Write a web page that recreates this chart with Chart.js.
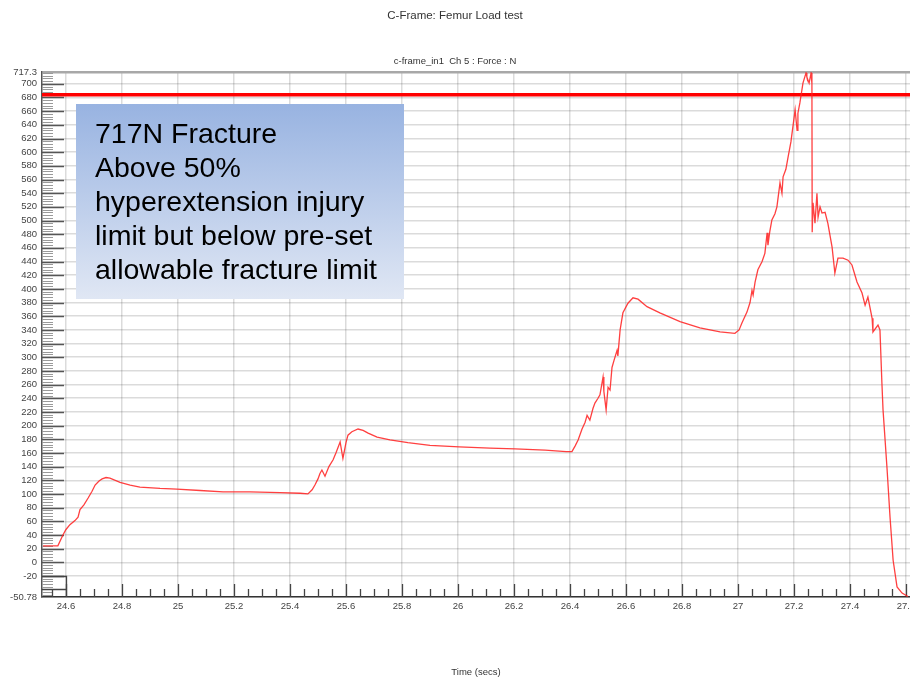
<!DOCTYPE html>
<html>
<head>
<meta charset="utf-8">
<script src="https://cdn.jsdelivr.net/npm/chart.js@4/dist/chart.umd.min.js"></script>
<style>
  html, body { margin: 0; padding: 0; background: #fff; }
  #wrap { width: 910px; height: 680px; }
</style>
</head>
<body>
<div id="wrap"><canvas id="femurChart" width="910" height="680"></canvas></div>
<script>
// time axis (secs) and femur force (N)
const timeSecs = [
  24.518, 24.571, 24.589, 24.600, 24.614, 24.632, 24.643, 24.650, 24.664, 24.679,
  24.693, 24.704, 24.718, 24.729, 24.743, 24.757, 24.793, 24.829, 24.864, 24.936,
  24.996, 25.079, 25.161, 25.257, 25.364, 25.436, 25.464, 25.479, 25.489, 25.500,
  25.507, 25.514, 25.525, 25.539, 25.554, 25.564, 25.579, 25.589, 25.600, 25.607,
  25.621, 25.643, 25.661, 25.679, 25.711, 25.757, 25.821, 25.900, 26.004, 26.114,
  26.204, 26.311, 26.386, 26.407, 26.418, 26.429, 26.443, 26.454, 26.461, 26.471,
  26.482, 26.489, 26.500, 26.507, 26.518, 26.521, 26.529, 26.536, 26.543, 26.550,
  26.557, 26.568, 26.571, 26.579, 26.589, 26.607, 26.625, 26.643, 26.675, 26.721,
  26.793, 26.864, 26.936, 26.989, 27.004, 27.014, 27.032, 27.043, 27.050, 27.054,
  27.061, 27.071, 27.086, 27.096, 27.104, 27.107, 27.114, 27.121, 27.132, 27.139,
  27.150, 27.157, 27.161, 27.171, 27.179, 27.189, 27.196, 27.204, 27.211, 27.214,
  27.221, 27.232, 27.243, 27.246, 27.254, 27.261, 27.264, 27.265, 27.268, 27.275,
  27.282, 27.286, 27.293, 27.300, 27.311, 27.321, 27.336, 27.346, 27.357, 27.375,
  27.393, 27.407, 27.425, 27.443, 27.454, 27.464, 27.479, 27.482, 27.500, 27.507,
  27.514, 27.518, 27.532, 27.543, 27.554, 27.568, 27.586, 27.607
];
const forceN = [
  24, 24, 40, 48, 55, 61, 66, 77, 84, 94,
  104, 113, 119, 122, 124, 123, 117, 113, 110, 108,
  107, 105, 103, 103, 102, 101, 100, 106, 113, 122,
  130, 135, 126, 140, 150, 160, 176, 152, 175, 186,
  191, 195, 193, 189, 183, 179, 175, 171, 169, 167,
  166, 164, 162, 162, 170, 179, 195, 205, 215, 208,
  225, 233, 240, 245, 271, 250, 223, 256, 252, 285,
  295, 310, 302, 340, 365, 379, 387, 385, 374, 365,
  352, 343, 337, 335, 340, 350, 366, 380, 398, 391,
  410, 428, 440, 452, 482, 464, 485, 501, 510, 520,
  555, 540, 564, 575, 593, 615, 637, 662, 632, 657,
  672, 701, 716, 710, 701, 716, 700, 483, 526, 496,
  540, 505, 520, 511, 512, 496, 461, 423, 445, 445,
  442, 435, 410, 394, 376, 388, 357, 337, 347, 340,
  262, 223, 139, 66, 3, -36, -45, -50
];
const limitN = 684;

const xTicks = [24.6, 24.8, 25, 25.2, 25.4, 25.6, 25.8, 26, 26.2, 26.4, 26.6, 26.8, 27, 27.2, 27.4, 27.6];
const yTicks = [
  -50.78, -20, 0, 20, 40, 60, 80, 100, 120, 140, 160, 180, 200, 220, 240, 260, 280, 300,
  320, 340, 360, 380, 400, 420, 440, 460, 480, 500, 520, 540, 560, 580, 600, 620, 640,
  660, 680, 700, 717.3
];
const xMin = 24.5143, xMax = 27.6143;
const yMin = -50.78, yMax = 717.3;

const noteLines = [
  '717N Fracture',
  'Above 50%',
  'hyperextension injury',
  'limit but below pre-set',
  'allowable fracture limit'
];

const FONT = "'Liberation Sans', Arial, sans-serif";

// small tick marks inside the plot, like the original DAQ plot
const axisMarks = {
    id: 'axisMarks',
    beforeDatasetsDraw(chart) {
        const { ctx, chartArea: a, scales: { x, y } } = chart;
        ctx.save();
        ctx.beginPath();
        ctx.rect(a.left, a.top, a.right - a.left, a.bottom - a.top);
        ctx.clip();

        // y minor ticks every 4 N, major every 20
        ctx.strokeStyle = '#9a9a9a';
        ctx.lineWidth = 1;
        ctx.beginPath();
        for (let v = -48; v < yMax; v += 4) {
            if (v % 20 === 0) continue;
            const py = Math.round(y.getPixelForValue(v)) + 0.5;
            ctx.moveTo(a.left, py);
            ctx.lineTo(a.left + 11, py);
        }
        ctx.stroke();
        ctx.strokeStyle = '#555';
        ctx.lineWidth = 1.3;
        ctx.beginPath();
        for (let v = -20; v <= 700; v += 20) {
            const py = Math.round(y.getPixelForValue(v)) + 0.5;
            ctx.moveTo(a.left, py);
            ctx.lineTo(a.left + 22, py);
        }
        ctx.stroke();

        // x minor ticks every 0.05 s, major every 0.2 s
        ctx.strokeStyle = '#444';
        ctx.lineWidth = 1.3;
        ctx.beginPath();
        for (let k = 0; k < 64; k++) {
            const t = 24.55 + k * 0.05;
            if (t > xMax) break;
            const major = Math.abs(((t - 24.6) / 0.2) - Math.round((t - 24.6) / 0.2)) < 1e-6;
            const px = Math.round(x.getPixelForValue(t)) + 0.5;
            ctx.moveTo(px, a.bottom);
            ctx.lineTo(px, a.bottom - (major ? 13 : 8));
        }
        ctx.stroke();

        // little box in the lower-left corner
        const p20 = Math.round(y.getPixelForValue(-20)) + 0.5;
        const p246 = Math.round(x.getPixelForValue(24.6)) + 0.5;
        ctx.beginPath();
        ctx.moveTo(a.left, p20);
        ctx.lineTo(p246, p20);
        ctx.lineTo(p246, a.bottom);
        ctx.moveTo(a.left, a.bottom - 7.5);
        ctx.lineTo(p246, a.bottom - 7.5);
        ctx.stroke();
        ctx.restore();
    }
};

const noteBox = {
    id: 'noteBox',
    afterDatasetsDraw(chart) {
        const { ctx, chartArea: a } = chart;
        const bx = a.left + 34, by = a.top + 32, bw = 328, bh = 195;
        ctx.save();
        const g = ctx.createLinearGradient(0, by, 0, by + bh);
        g.addColorStop(0, '#98b3e1');
        g.addColorStop(1, '#e0e7f4');
        ctx.fillStyle = g;
        ctx.fillRect(bx, by, bw, bh);
        ctx.fillStyle = '#000';
        ctx.font = '28.5px ' + FONT;
        ctx.textBaseline = 'alphabetic';
        ctx.textAlign = 'left';
        noteLines.forEach((line, i) => {
            ctx.fillText(line, bx + 19, by + 39 + i * 34);
        });
        ctx.restore();
    }
};

Chart.register(axisMarks, noteBox);

const ctx = document.getElementById('femurChart');
new Chart(ctx, {
    type: 'line',
    data: {
        datasets: [
            {
                label: 'Force',
                data: timeSecs.map((t, i) => ({ x: t, y: forceN[i] })),
                borderColor: 'rgba(255, 30, 30, 0.85)',
                borderWidth: 1.3,
                pointRadius: 0,
                tension: 0
            },
            {
                label: 'Limit',
                data: [{ x: xMin, y: limitN }, { x: xMax, y: limitN }],
                borderColor: '#ff0000',
                borderWidth: 3.5,
                pointRadius: 0
            }
        ]
    },
    options: {
        responsive: false,
        animation: false,
        layout: { padding: 0 },
        plugins: {
            legend: { display: false },
            tooltip: { enabled: false },
            title: {
                display: true,
                text: 'C-Frame: Femur Load test',
                color: '#333',
                font: { family: FONT, size: 11.5, weight: 'normal', lineHeight: 1.2 },
                padding: { top: 9, bottom: 32.5 }
            },
            subtitle: {
                display: true,
                text: 'c-frame_in1  Ch 5 : Force : N',
                color: '#333',
                font: { family: FONT, size: 9.5, lineHeight: 1.2 },
                padding: { top: 0, bottom: 5.3 }
            }
        },
        scales: {
            x: {
                type: 'linear',
                min: xMin,
                max: xMax,
                afterBuildTicks: (scale) => { scale.ticks = xTicks.map(v => ({ value: v })); },
                afterFit: (scale) => { scale.height = 83; scale.paddingLeft = 0; scale.paddingRight = 0; },
                ticks: {
                    autoSkip: false,
                    maxRotation: 0,
                    padding: 4,
                    color: '#444',
                    font: { family: FONT, size: 9.5 },
                    callback: (v) => String(+Number(v).toFixed(2))
                },
                grid: { color: 'rgba(0,0,0,0.14)', lineWidth: 1.5, drawTicks: false },
                border: { color: '#333', width: 1.5 },
                title: {
                    display: true,
                    text: 'Time (secs)',
                    color: '#333',
                    font: { family: FONT, size: 9.5, lineHeight: 1.2 },
                    padding: { top: 0, bottom: 2.3 }
                }
            },
            y: {
                type: 'linear',
                min: yMin,
                max: yMax,
                afterBuildTicks: (scale) => { scale.ticks = yTicks.map(v => ({ value: v })); },
                afterFit: (scale) => { scale.width = 42; scale.paddingTop = 0; scale.paddingBottom = 0; },
                ticks: {
                    autoSkip: false,
                    padding: 5,
                    color: '#444',
                    font: { family: FONT, size: 9.5 },
                    callback: (v) => String(v)
                },
                grid: {
                    color: (c) => (c.tick && c.tick.value === yMax) ? '#a8a8a8' : 'rgba(0,0,0,0.14)',
                    lineWidth: (c) => (c.tick && c.tick.value === yMax) ? 2.5 : 1.5,
                    drawTicks: false
                },
                border: { color: '#555', width: 1.5 }
            }
        }
    }
});
</script>
</body>
</html>
